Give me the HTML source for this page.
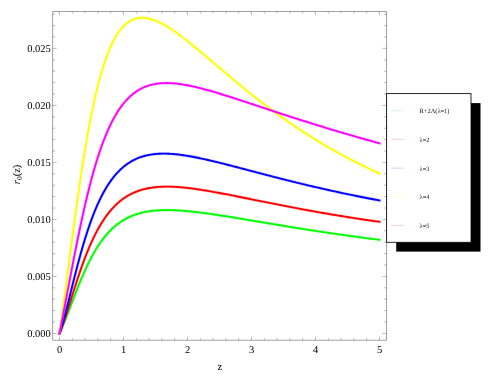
<!DOCTYPE html>
<html><head><meta charset="utf-8"><title>plot</title>
<style>html,body{margin:0;padding:0;background:#fff;}body{width:491px;height:382px;overflow:hidden;font-family:"Liberation Serif",serif;}svg{display:block}text{text-rendering:geometricPrecision;}</style>
</head><body>
<svg width="491" height="382" viewBox="0 0 491 382" style="will-change:transform">
<rect width="491" height="382" fill="#fff"/>
<g fill="none" stroke="#00ff00" stroke-linejoin="round" stroke-linecap="square"><path d="M59.50,333.43 L60.22,331.88 L60.94,330.28 L61.66,328.65 L62.38,326.97 L63.10,325.26 L63.81,323.51 L64.53,321.74 L65.25,319.94 L65.97,318.12 L66.69,316.29 L67.41,314.43 L68.13,312.56 L68.85,310.69 L69.57,308.80 L70.29,306.91 L71.01,305.02 L71.72,303.13 L72.44,301.24 L73.16,299.36 L73.88,297.48 L74.60,295.61 L75.32,293.76 L76.04,291.91 L76.76,290.08 L77.48,288.26 L78.20,286.46 L78.92,284.67 L79.63,282.91 L80.35,281.16 L81.07,279.44 L81.79,277.74 L82.51,276.06 L83.23,274.40 L83.95,272.77 L84.67,271.16 L85.39,269.58 L86.11,268.03 L86.83,266.49 L87.54,264.99 L88.26,263.51 L88.98,262.06 L89.70,260.63 L90.42,259.23 L91.14,257.86 L91.86,256.51 L92.58,255.19 L93.30,253.90 L94.02,252.64 L94.74,251.40 L95.46,250.18 L96.17,249.00 L96.89,247.83 L97.61,246.70 L98.33,245.59 L99.05,244.50 L99.77,243.44 L100.49,242.40 L101.21,241.39 L101.93,240.40 L102.65,239.44 L103.37,238.50 L104.08,237.58 L104.80,236.68 L105.52,235.81 L106.24,234.96 L106.96,234.12 L107.68,233.31 L108.40,232.53 L109.12,231.76 L109.84,231.01 L110.56,230.28 L111.28,229.57 L111.99,228.88 L112.71,228.20 L113.43,227.55 L114.15,226.91 L114.87,226.29 L115.59,225.69 L116.31,225.10 L117.03,224.53 L117.75,223.98 L118.47,223.44 L119.19,222.92 L119.90,222.41 L120.62,221.92 L121.34,221.44 L122.06,220.98 L122.78,220.53 L123.50,220.09 L124.80,219.33 L126.10,218.62 L127.41,217.94 L128.71,217.31 L130.01,216.70 L131.31,216.14 L132.61,215.61 L133.91,215.11 L135.22,214.64 L136.52,214.20 L137.82,213.79 L139.12,213.41 L140.42,213.06 L141.72,212.73 L143.03,212.42 L144.33,212.14 L145.63,211.88 L146.93,211.64 L148.23,211.42 L149.53,211.22 L150.84,211.04 L152.14,210.87 L153.44,210.73 L154.74,210.60 L156.04,210.49 L157.34,210.39 L158.65,210.30 L159.95,210.23 L161.25,210.18 L162.55,210.13 L163.85,210.10 L165.15,210.08 L166.46,210.07 L167.76,210.08 L169.06,210.09 L170.36,210.11 L171.66,210.14 L172.96,210.18 L174.27,210.23 L175.57,210.29 L176.87,210.36 L178.17,210.43 L179.47,210.51 L180.77,210.60 L182.08,210.69 L183.38,210.79 L184.68,210.90 L185.98,211.01 L187.28,211.13 L188.58,211.26 L189.89,211.38 L191.19,211.52 L192.49,211.66 L193.79,211.80 L195.09,211.95 L196.39,212.10 L197.70,212.25 L199.00,212.41 L200.30,212.57 L202.86,212.90 L205.42,213.24 L207.98,213.59 L210.54,213.95 L213.10,214.32 L215.66,214.70 L218.22,215.09 L220.78,215.48 L223.34,215.88 L225.90,216.28 L228.46,216.69 L231.02,217.10 L233.58,217.52 L236.14,217.93 L238.70,218.36 L241.26,218.78 L243.82,219.20 L246.38,219.63 L248.94,220.06 L251.50,220.49 L254.06,220.92 L256.62,221.34 L259.18,221.77 L261.74,222.20 L264.30,222.63 L266.86,223.06 L269.42,223.49 L271.98,223.91 L274.54,224.34 L277.10,224.76 L279.66,225.19 L282.22,225.61 L284.78,226.03 L287.34,226.45 L289.90,226.86 L292.46,227.28 L295.02,227.69 L297.58,228.10 L300.14,228.51 L302.70,228.91 L305.26,229.31 L307.82,229.71 L310.38,230.11 L312.94,230.51 L315.50,230.90 L318.06,231.29 L320.62,231.68 L323.18,232.06 L325.74,232.45 L328.30,232.82 L330.86,233.20 L333.42,233.57 L335.98,233.94 L338.54,234.31 L341.10,234.68 L343.66,235.04 L346.22,235.40 L348.78,235.75 L351.34,236.11 L353.90,236.45 L356.46,236.80 L359.02,237.14 L361.58,237.48 L364.14,237.82 L366.70,238.15 L369.26,238.48 L371.82,238.81 L374.38,239.13 L376.94,239.45 L379.50,239.77" stroke-opacity="0.22" stroke-width="2.9499999999999997"/><path d="M59.50,333.43 L60.22,331.88 L60.94,330.28 L61.66,328.65 L62.38,326.97 L63.10,325.26 L63.81,323.51 L64.53,321.74 L65.25,319.94 L65.97,318.12 L66.69,316.29 L67.41,314.43 L68.13,312.56 L68.85,310.69 L69.57,308.80 L70.29,306.91 L71.01,305.02 L71.72,303.13 L72.44,301.24 L73.16,299.36 L73.88,297.48 L74.60,295.61 L75.32,293.76 L76.04,291.91 L76.76,290.08 L77.48,288.26 L78.20,286.46 L78.92,284.67 L79.63,282.91 L80.35,281.16 L81.07,279.44 L81.79,277.74 L82.51,276.06 L83.23,274.40 L83.95,272.77 L84.67,271.16 L85.39,269.58 L86.11,268.03 L86.83,266.49 L87.54,264.99 L88.26,263.51 L88.98,262.06 L89.70,260.63 L90.42,259.23 L91.14,257.86 L91.86,256.51 L92.58,255.19 L93.30,253.90 L94.02,252.64 L94.74,251.40 L95.46,250.18 L96.17,249.00 L96.89,247.83 L97.61,246.70 L98.33,245.59 L99.05,244.50 L99.77,243.44 L100.49,242.40 L101.21,241.39 L101.93,240.40 L102.65,239.44 L103.37,238.50 L104.08,237.58 L104.80,236.68 L105.52,235.81 L106.24,234.96 L106.96,234.12 L107.68,233.31 L108.40,232.53 L109.12,231.76 L109.84,231.01 L110.56,230.28 L111.28,229.57 L111.99,228.88 L112.71,228.20 L113.43,227.55 L114.15,226.91 L114.87,226.29 L115.59,225.69 L116.31,225.10 L117.03,224.53 L117.75,223.98 L118.47,223.44 L119.19,222.92 L119.90,222.41 L120.62,221.92 L121.34,221.44 L122.06,220.98 L122.78,220.53 L123.50,220.09 L124.80,219.33 L126.10,218.62 L127.41,217.94 L128.71,217.31 L130.01,216.70 L131.31,216.14 L132.61,215.61 L133.91,215.11 L135.22,214.64 L136.52,214.20 L137.82,213.79 L139.12,213.41 L140.42,213.06 L141.72,212.73 L143.03,212.42 L144.33,212.14 L145.63,211.88 L146.93,211.64 L148.23,211.42 L149.53,211.22 L150.84,211.04 L152.14,210.87 L153.44,210.73 L154.74,210.60 L156.04,210.49 L157.34,210.39 L158.65,210.30 L159.95,210.23 L161.25,210.18 L162.55,210.13 L163.85,210.10 L165.15,210.08 L166.46,210.07 L167.76,210.08 L169.06,210.09 L170.36,210.11 L171.66,210.14 L172.96,210.18 L174.27,210.23 L175.57,210.29 L176.87,210.36 L178.17,210.43 L179.47,210.51 L180.77,210.60 L182.08,210.69 L183.38,210.79 L184.68,210.90 L185.98,211.01 L187.28,211.13 L188.58,211.26 L189.89,211.38 L191.19,211.52 L192.49,211.66 L193.79,211.80 L195.09,211.95 L196.39,212.10 L197.70,212.25 L199.00,212.41 L200.30,212.57 L202.86,212.90 L205.42,213.24 L207.98,213.59 L210.54,213.95 L213.10,214.32 L215.66,214.70 L218.22,215.09 L220.78,215.48 L223.34,215.88 L225.90,216.28 L228.46,216.69 L231.02,217.10 L233.58,217.52 L236.14,217.93 L238.70,218.36 L241.26,218.78 L243.82,219.20 L246.38,219.63 L248.94,220.06 L251.50,220.49 L254.06,220.92 L256.62,221.34 L259.18,221.77 L261.74,222.20 L264.30,222.63 L266.86,223.06 L269.42,223.49 L271.98,223.91 L274.54,224.34 L277.10,224.76 L279.66,225.19 L282.22,225.61 L284.78,226.03 L287.34,226.45 L289.90,226.86 L292.46,227.28 L295.02,227.69 L297.58,228.10 L300.14,228.51 L302.70,228.91 L305.26,229.31 L307.82,229.71 L310.38,230.11 L312.94,230.51 L315.50,230.90 L318.06,231.29 L320.62,231.68 L323.18,232.06 L325.74,232.45 L328.30,232.82 L330.86,233.20 L333.42,233.57 L335.98,233.94 L338.54,234.31 L341.10,234.68 L343.66,235.04 L346.22,235.40 L348.78,235.75 L351.34,236.11 L353.90,236.45 L356.46,236.80 L359.02,237.14 L361.58,237.48 L364.14,237.82 L366.70,238.15 L369.26,238.48 L371.82,238.81 L374.38,239.13 L376.94,239.45 L379.50,239.77" stroke-width="1.8499999999999999"/></g>
<g fill="none" stroke="#ff0000" stroke-linejoin="round" stroke-linecap="square"><path d="M59.50,333.43 L60.22,331.65 L60.94,329.79 L61.66,327.87 L62.38,325.88 L63.10,323.85 L63.81,321.76 L64.53,319.63 L65.25,317.47 L65.97,315.27 L66.69,313.05 L67.41,310.80 L68.13,308.54 L68.85,306.26 L69.57,303.98 L70.29,301.69 L71.01,299.40 L71.72,297.10 L72.44,294.82 L73.16,292.54 L73.88,290.27 L74.60,288.01 L75.32,285.77 L76.04,283.55 L76.76,281.34 L77.48,279.16 L78.20,276.99 L78.92,274.85 L79.63,272.74 L80.35,270.65 L81.07,268.59 L81.79,266.56 L82.51,264.56 L83.23,262.59 L83.95,260.65 L84.67,258.74 L85.39,256.86 L86.11,255.01 L86.83,253.19 L87.54,251.41 L88.26,249.66 L88.98,247.94 L89.70,246.26 L90.42,244.61 L91.14,242.99 L91.86,241.40 L92.58,239.85 L93.30,238.32 L94.02,236.83 L94.74,235.37 L95.46,233.95 L96.17,232.55 L96.89,231.18 L97.61,229.85 L98.33,228.54 L99.05,227.27 L99.77,226.02 L100.49,224.80 L101.21,223.61 L101.93,222.45 L102.65,221.32 L103.37,220.22 L104.08,219.14 L104.80,218.08 L105.52,217.06 L106.24,216.06 L106.96,215.08 L107.68,214.13 L108.40,213.20 L109.12,212.30 L109.84,211.42 L110.56,210.56 L111.28,209.72 L111.99,208.91 L112.71,208.12 L113.43,207.35 L114.15,206.60 L114.87,205.87 L115.59,205.16 L116.31,204.47 L117.03,203.80 L117.75,203.15 L118.47,202.51 L119.19,201.90 L119.90,201.30 L120.62,200.72 L121.34,200.15 L122.06,199.61 L122.78,199.07 L123.50,198.56 L124.80,197.66 L126.10,196.81 L127.41,196.01 L128.71,195.26 L130.01,194.55 L131.31,193.88 L132.61,193.25 L133.91,192.65 L135.22,192.10 L136.52,191.58 L137.82,191.09 L139.12,190.63 L140.42,190.21 L141.72,189.82 L143.03,189.45 L144.33,189.11 L145.63,188.80 L146.93,188.52 L148.23,188.25 L149.53,188.02 L150.84,187.80 L152.14,187.60 L153.44,187.43 L154.74,187.28 L156.04,187.14 L157.34,187.02 L158.65,186.92 L159.95,186.84 L161.25,186.77 L162.55,186.72 L163.85,186.68 L165.15,186.66 L166.46,186.65 L167.76,186.65 L169.06,186.67 L170.36,186.70 L171.66,186.74 L172.96,186.79 L174.27,186.85 L175.57,186.92 L176.87,187.00 L178.17,187.09 L179.47,187.19 L180.77,187.29 L182.08,187.41 L183.38,187.53 L184.68,187.66 L185.98,187.80 L187.28,187.94 L188.58,188.09 L189.89,188.25 L191.19,188.41 L192.49,188.58 L193.79,188.76 L195.09,188.93 L196.39,189.12 L197.70,189.31 L199.00,189.50 L200.30,189.70 L202.86,190.10 L205.42,190.51 L207.98,190.94 L210.54,191.38 L213.10,191.83 L215.66,192.29 L218.22,192.76 L220.78,193.24 L223.34,193.72 L225.90,194.21 L228.46,194.70 L231.02,195.20 L233.58,195.70 L236.14,196.21 L238.70,196.72 L241.26,197.23 L243.82,197.74 L246.38,198.26 L248.94,198.77 L251.50,199.29 L254.06,199.81 L256.62,200.32 L259.18,200.84 L261.74,201.35 L264.30,201.87 L266.86,202.38 L269.42,202.89 L271.98,203.40 L274.54,203.91 L277.10,204.41 L279.66,204.92 L282.22,205.42 L284.78,205.92 L287.34,206.41 L289.90,206.90 L292.46,207.39 L295.02,207.88 L297.58,208.36 L300.14,208.84 L302.70,209.32 L305.26,209.79 L307.82,210.26 L310.38,210.73 L312.94,211.19 L315.50,211.65 L318.06,212.10 L320.62,212.56 L323.18,213.00 L325.74,213.45 L328.30,213.88 L330.86,214.32 L333.42,214.75 L335.98,215.18 L338.54,215.60 L341.10,216.02 L343.66,216.43 L346.22,216.84 L348.78,217.25 L351.34,217.65 L353.90,218.05 L356.46,218.44 L359.02,218.83 L361.58,219.22 L364.14,219.60 L366.70,219.97 L369.26,220.34 L371.82,220.71 L374.38,221.07 L376.94,221.43 L379.50,221.79" stroke-opacity="0.22" stroke-width="2.9499999999999997"/><path d="M59.50,333.43 L60.22,331.65 L60.94,329.79 L61.66,327.87 L62.38,325.88 L63.10,323.85 L63.81,321.76 L64.53,319.63 L65.25,317.47 L65.97,315.27 L66.69,313.05 L67.41,310.80 L68.13,308.54 L68.85,306.26 L69.57,303.98 L70.29,301.69 L71.01,299.40 L71.72,297.10 L72.44,294.82 L73.16,292.54 L73.88,290.27 L74.60,288.01 L75.32,285.77 L76.04,283.55 L76.76,281.34 L77.48,279.16 L78.20,276.99 L78.92,274.85 L79.63,272.74 L80.35,270.65 L81.07,268.59 L81.79,266.56 L82.51,264.56 L83.23,262.59 L83.95,260.65 L84.67,258.74 L85.39,256.86 L86.11,255.01 L86.83,253.19 L87.54,251.41 L88.26,249.66 L88.98,247.94 L89.70,246.26 L90.42,244.61 L91.14,242.99 L91.86,241.40 L92.58,239.85 L93.30,238.32 L94.02,236.83 L94.74,235.37 L95.46,233.95 L96.17,232.55 L96.89,231.18 L97.61,229.85 L98.33,228.54 L99.05,227.27 L99.77,226.02 L100.49,224.80 L101.21,223.61 L101.93,222.45 L102.65,221.32 L103.37,220.22 L104.08,219.14 L104.80,218.08 L105.52,217.06 L106.24,216.06 L106.96,215.08 L107.68,214.13 L108.40,213.20 L109.12,212.30 L109.84,211.42 L110.56,210.56 L111.28,209.72 L111.99,208.91 L112.71,208.12 L113.43,207.35 L114.15,206.60 L114.87,205.87 L115.59,205.16 L116.31,204.47 L117.03,203.80 L117.75,203.15 L118.47,202.51 L119.19,201.90 L119.90,201.30 L120.62,200.72 L121.34,200.15 L122.06,199.61 L122.78,199.07 L123.50,198.56 L124.80,197.66 L126.10,196.81 L127.41,196.01 L128.71,195.26 L130.01,194.55 L131.31,193.88 L132.61,193.25 L133.91,192.65 L135.22,192.10 L136.52,191.58 L137.82,191.09 L139.12,190.63 L140.42,190.21 L141.72,189.82 L143.03,189.45 L144.33,189.11 L145.63,188.80 L146.93,188.52 L148.23,188.25 L149.53,188.02 L150.84,187.80 L152.14,187.60 L153.44,187.43 L154.74,187.28 L156.04,187.14 L157.34,187.02 L158.65,186.92 L159.95,186.84 L161.25,186.77 L162.55,186.72 L163.85,186.68 L165.15,186.66 L166.46,186.65 L167.76,186.65 L169.06,186.67 L170.36,186.70 L171.66,186.74 L172.96,186.79 L174.27,186.85 L175.57,186.92 L176.87,187.00 L178.17,187.09 L179.47,187.19 L180.77,187.29 L182.08,187.41 L183.38,187.53 L184.68,187.66 L185.98,187.80 L187.28,187.94 L188.58,188.09 L189.89,188.25 L191.19,188.41 L192.49,188.58 L193.79,188.76 L195.09,188.93 L196.39,189.12 L197.70,189.31 L199.00,189.50 L200.30,189.70 L202.86,190.10 L205.42,190.51 L207.98,190.94 L210.54,191.38 L213.10,191.83 L215.66,192.29 L218.22,192.76 L220.78,193.24 L223.34,193.72 L225.90,194.21 L228.46,194.70 L231.02,195.20 L233.58,195.70 L236.14,196.21 L238.70,196.72 L241.26,197.23 L243.82,197.74 L246.38,198.26 L248.94,198.77 L251.50,199.29 L254.06,199.81 L256.62,200.32 L259.18,200.84 L261.74,201.35 L264.30,201.87 L266.86,202.38 L269.42,202.89 L271.98,203.40 L274.54,203.91 L277.10,204.41 L279.66,204.92 L282.22,205.42 L284.78,205.92 L287.34,206.41 L289.90,206.90 L292.46,207.39 L295.02,207.88 L297.58,208.36 L300.14,208.84 L302.70,209.32 L305.26,209.79 L307.82,210.26 L310.38,210.73 L312.94,211.19 L315.50,211.65 L318.06,212.10 L320.62,212.56 L323.18,213.00 L325.74,213.45 L328.30,213.88 L330.86,214.32 L333.42,214.75 L335.98,215.18 L338.54,215.60 L341.10,216.02 L343.66,216.43 L346.22,216.84 L348.78,217.25 L351.34,217.65 L353.90,218.05 L356.46,218.44 L359.02,218.83 L361.58,219.22 L364.14,219.60 L366.70,219.97 L369.26,220.34 L371.82,220.71 L374.38,221.07 L376.94,221.43 L379.50,221.79" stroke-width="1.8499999999999999"/></g>
<g fill="none" stroke="#0000ff" stroke-linejoin="round" stroke-linecap="square"><path d="M59.50,333.43 L60.22,331.33 L60.94,329.11 L61.66,326.79 L62.38,324.37 L63.10,321.86 L63.81,319.28 L64.53,316.63 L65.25,313.92 L65.97,311.17 L66.69,308.37 L67.41,305.54 L68.13,302.69 L68.85,299.81 L69.57,296.93 L70.29,294.03 L71.01,291.13 L71.72,288.23 L72.44,285.34 L73.16,282.46 L73.88,279.59 L74.60,276.75 L75.32,273.92 L76.04,271.11 L76.76,268.34 L77.48,265.59 L78.20,262.87 L78.92,260.19 L79.63,257.54 L80.35,254.92 L81.07,252.35 L81.79,249.81 L82.51,247.31 L83.23,244.85 L83.95,242.43 L84.67,240.05 L85.39,237.72 L86.11,235.43 L86.83,233.18 L87.54,230.97 L88.26,228.80 L88.98,226.68 L89.70,224.60 L90.42,222.56 L91.14,220.57 L91.86,218.62 L92.58,216.71 L93.30,214.84 L94.02,213.01 L94.74,211.22 L95.46,209.47 L96.17,207.76 L96.89,206.10 L97.61,204.47 L98.33,202.87 L99.05,201.32 L99.77,199.80 L100.49,198.32 L101.21,196.88 L101.93,195.47 L102.65,194.10 L103.37,192.76 L104.08,191.45 L104.80,190.18 L105.52,188.94 L106.24,187.73 L106.96,186.56 L107.68,185.41 L108.40,184.29 L109.12,183.21 L109.84,182.15 L110.56,181.12 L111.28,180.12 L111.99,179.15 L112.71,178.20 L113.43,177.28 L114.15,176.38 L114.87,175.51 L115.59,174.67 L116.31,173.85 L117.03,173.05 L117.75,172.28 L118.47,171.52 L119.19,170.79 L119.90,170.09 L120.62,169.40 L121.34,168.73 L122.06,168.09 L122.78,167.46 L123.50,166.85 L124.80,165.80 L126.10,164.81 L127.41,163.88 L128.71,163.00 L130.01,162.17 L131.31,161.39 L132.61,160.67 L133.91,159.99 L135.22,159.35 L136.52,158.76 L137.82,158.21 L139.12,157.69 L140.42,157.22 L141.72,156.78 L143.03,156.38 L144.33,156.01 L145.63,155.67 L146.93,155.36 L148.23,155.08 L149.53,154.83 L150.84,154.61 L152.14,154.41 L153.44,154.24 L154.74,154.09 L156.04,153.97 L157.34,153.86 L158.65,153.78 L159.95,153.72 L161.25,153.68 L162.55,153.65 L163.85,153.64 L165.15,153.65 L166.46,153.68 L167.76,153.72 L169.06,153.78 L170.36,153.85 L171.66,153.94 L172.96,154.03 L174.27,154.14 L175.57,154.27 L176.87,154.40 L178.17,154.54 L179.47,154.70 L180.77,154.86 L182.08,155.04 L183.38,155.22 L184.68,155.42 L185.98,155.62 L187.28,155.83 L188.58,156.04 L189.89,156.27 L191.19,156.50 L192.49,156.74 L193.79,156.98 L195.09,157.23 L196.39,157.49 L197.70,157.75 L199.00,158.01 L200.30,158.29 L202.86,158.83 L205.42,159.40 L207.98,159.98 L210.54,160.57 L213.10,161.18 L215.66,161.79 L218.22,162.42 L220.78,163.05 L223.34,163.69 L225.90,164.34 L228.46,165.00 L231.02,165.65 L233.58,166.32 L236.14,166.98 L238.70,167.65 L241.26,168.32 L243.82,169.00 L246.38,169.67 L248.94,170.34 L251.50,171.02 L254.06,171.69 L256.62,172.36 L259.18,173.04 L261.74,173.71 L264.30,174.38 L266.86,175.04 L269.42,175.71 L271.98,176.37 L274.54,177.03 L277.10,177.69 L279.66,178.34 L282.22,178.99 L284.78,179.64 L287.34,180.28 L289.90,180.92 L292.46,181.55 L295.02,182.18 L297.58,182.81 L300.14,183.43 L302.70,184.05 L305.26,184.67 L307.82,185.28 L310.38,185.88 L312.94,186.48 L315.50,187.08 L318.06,187.67 L320.62,188.26 L323.18,188.84 L325.74,189.42 L328.30,189.99 L330.86,190.56 L333.42,191.12 L335.98,191.68 L338.54,192.23 L341.10,192.78 L343.66,193.33 L346.22,193.87 L348.78,194.40 L351.34,194.93 L353.90,195.45 L356.46,195.97 L359.02,196.49 L361.58,197.00 L364.14,197.50 L366.70,198.00 L369.26,198.50 L371.82,198.99 L374.38,199.47 L376.94,199.95 L379.50,200.43" stroke-opacity="0.22" stroke-width="2.9499999999999997"/><path d="M59.50,333.43 L60.22,331.33 L60.94,329.11 L61.66,326.79 L62.38,324.37 L63.10,321.86 L63.81,319.28 L64.53,316.63 L65.25,313.92 L65.97,311.17 L66.69,308.37 L67.41,305.54 L68.13,302.69 L68.85,299.81 L69.57,296.93 L70.29,294.03 L71.01,291.13 L71.72,288.23 L72.44,285.34 L73.16,282.46 L73.88,279.59 L74.60,276.75 L75.32,273.92 L76.04,271.11 L76.76,268.34 L77.48,265.59 L78.20,262.87 L78.92,260.19 L79.63,257.54 L80.35,254.92 L81.07,252.35 L81.79,249.81 L82.51,247.31 L83.23,244.85 L83.95,242.43 L84.67,240.05 L85.39,237.72 L86.11,235.43 L86.83,233.18 L87.54,230.97 L88.26,228.80 L88.98,226.68 L89.70,224.60 L90.42,222.56 L91.14,220.57 L91.86,218.62 L92.58,216.71 L93.30,214.84 L94.02,213.01 L94.74,211.22 L95.46,209.47 L96.17,207.76 L96.89,206.10 L97.61,204.47 L98.33,202.87 L99.05,201.32 L99.77,199.80 L100.49,198.32 L101.21,196.88 L101.93,195.47 L102.65,194.10 L103.37,192.76 L104.08,191.45 L104.80,190.18 L105.52,188.94 L106.24,187.73 L106.96,186.56 L107.68,185.41 L108.40,184.29 L109.12,183.21 L109.84,182.15 L110.56,181.12 L111.28,180.12 L111.99,179.15 L112.71,178.20 L113.43,177.28 L114.15,176.38 L114.87,175.51 L115.59,174.67 L116.31,173.85 L117.03,173.05 L117.75,172.28 L118.47,171.52 L119.19,170.79 L119.90,170.09 L120.62,169.40 L121.34,168.73 L122.06,168.09 L122.78,167.46 L123.50,166.85 L124.80,165.80 L126.10,164.81 L127.41,163.88 L128.71,163.00 L130.01,162.17 L131.31,161.39 L132.61,160.67 L133.91,159.99 L135.22,159.35 L136.52,158.76 L137.82,158.21 L139.12,157.69 L140.42,157.22 L141.72,156.78 L143.03,156.38 L144.33,156.01 L145.63,155.67 L146.93,155.36 L148.23,155.08 L149.53,154.83 L150.84,154.61 L152.14,154.41 L153.44,154.24 L154.74,154.09 L156.04,153.97 L157.34,153.86 L158.65,153.78 L159.95,153.72 L161.25,153.68 L162.55,153.65 L163.85,153.64 L165.15,153.65 L166.46,153.68 L167.76,153.72 L169.06,153.78 L170.36,153.85 L171.66,153.94 L172.96,154.03 L174.27,154.14 L175.57,154.27 L176.87,154.40 L178.17,154.54 L179.47,154.70 L180.77,154.86 L182.08,155.04 L183.38,155.22 L184.68,155.42 L185.98,155.62 L187.28,155.83 L188.58,156.04 L189.89,156.27 L191.19,156.50 L192.49,156.74 L193.79,156.98 L195.09,157.23 L196.39,157.49 L197.70,157.75 L199.00,158.01 L200.30,158.29 L202.86,158.83 L205.42,159.40 L207.98,159.98 L210.54,160.57 L213.10,161.18 L215.66,161.79 L218.22,162.42 L220.78,163.05 L223.34,163.69 L225.90,164.34 L228.46,165.00 L231.02,165.65 L233.58,166.32 L236.14,166.98 L238.70,167.65 L241.26,168.32 L243.82,169.00 L246.38,169.67 L248.94,170.34 L251.50,171.02 L254.06,171.69 L256.62,172.36 L259.18,173.04 L261.74,173.71 L264.30,174.38 L266.86,175.04 L269.42,175.71 L271.98,176.37 L274.54,177.03 L277.10,177.69 L279.66,178.34 L282.22,178.99 L284.78,179.64 L287.34,180.28 L289.90,180.92 L292.46,181.55 L295.02,182.18 L297.58,182.81 L300.14,183.43 L302.70,184.05 L305.26,184.67 L307.82,185.28 L310.38,185.88 L312.94,186.48 L315.50,187.08 L318.06,187.67 L320.62,188.26 L323.18,188.84 L325.74,189.42 L328.30,189.99 L330.86,190.56 L333.42,191.12 L335.98,191.68 L338.54,192.23 L341.10,192.78 L343.66,193.33 L346.22,193.87 L348.78,194.40 L351.34,194.93 L353.90,195.45 L356.46,195.97 L359.02,196.49 L361.58,197.00 L364.14,197.50 L366.70,198.00 L369.26,198.50 L371.82,198.99 L374.38,199.47 L376.94,199.95 L379.50,200.43" stroke-width="1.8499999999999999"/></g>
<g fill="none" stroke="#ffff00" stroke-linejoin="round" stroke-linecap="square"><path d="M59.50,333.43 L60.22,328.29 L60.94,323.09 L61.66,317.83 L62.38,312.53 L63.10,307.19 L63.81,301.80 L64.53,296.39 L65.25,290.95 L65.97,285.49 L66.69,280.02 L67.41,274.53 L68.13,269.04 L68.85,263.55 L69.57,258.07 L70.29,252.60 L71.01,247.15 L71.72,241.71 L72.44,236.30 L73.16,230.93 L73.88,225.58 L74.60,220.28 L75.32,215.02 L76.04,209.81 L76.76,204.64 L77.48,199.53 L78.20,194.48 L78.92,189.49 L79.63,184.57 L80.35,179.71 L81.07,174.91 L81.79,170.19 L82.51,165.55 L83.23,160.97 L83.95,156.48 L84.67,152.06 L85.39,147.72 L86.11,143.47 L86.83,139.29 L87.54,135.20 L88.26,131.19 L88.98,127.27 L89.70,123.43 L90.42,119.67 L91.14,116.00 L91.86,112.42 L92.58,108.92 L93.30,105.50 L94.02,102.17 L94.74,98.92 L95.46,95.75 L96.17,92.67 L96.89,89.66 L97.61,86.74 L98.33,83.90 L99.05,81.14 L99.77,78.45 L100.49,75.85 L101.21,73.32 L101.93,70.86 L102.65,68.48 L103.37,66.17 L104.08,63.94 L104.80,61.77 L105.52,59.67 L106.24,57.65 L106.96,55.69 L107.68,53.79 L108.40,51.96 L109.12,50.19 L109.84,48.48 L110.56,46.84 L111.28,45.25 L111.99,43.73 L112.71,42.25 L113.43,40.84 L114.15,39.48 L114.87,38.17 L115.59,36.92 L116.31,35.71 L117.03,34.56 L117.75,33.45 L118.47,32.39 L119.19,31.38 L119.90,30.42 L120.62,29.49 L121.34,28.61 L122.06,27.78 L122.78,26.98 L123.50,26.22 L124.80,24.95 L126.10,23.80 L127.41,22.77 L128.71,21.85 L130.01,21.04 L131.31,20.33 L132.61,19.71 L133.91,19.19 L135.22,18.75 L136.52,18.40 L137.82,18.13 L139.12,17.93 L140.42,17.80 L141.72,17.75 L143.03,17.76 L144.33,17.83 L145.63,17.96 L146.93,18.15 L148.23,18.39 L149.53,18.69 L150.84,19.03 L152.14,19.42 L153.44,19.85 L154.74,20.32 L156.04,20.83 L157.34,21.38 L158.65,21.97 L159.95,22.59 L161.25,23.24 L162.55,23.92 L163.85,24.63 L165.15,25.37 L166.46,26.13 L167.76,26.92 L169.06,27.73 L170.36,28.57 L171.66,29.42 L172.96,30.30 L174.27,31.19 L175.57,32.10 L176.87,33.02 L178.17,33.97 L179.47,34.92 L180.77,35.89 L182.08,36.87 L183.38,37.87 L184.68,38.87 L185.98,39.89 L187.28,40.92 L188.58,41.95 L189.89,42.99 L191.19,44.05 L192.49,45.10 L193.79,46.17 L195.09,47.24 L196.39,48.32 L197.70,49.40 L199.00,50.48 L200.30,51.58 L202.86,53.73 L205.42,55.90 L207.98,58.07 L210.54,60.25 L213.10,62.43 L215.66,64.62 L218.22,66.80 L220.78,68.98 L223.34,71.15 L225.90,73.32 L228.46,75.48 L231.02,77.64 L233.58,79.78 L236.14,81.91 L238.70,84.03 L241.26,86.13 L243.82,88.23 L246.38,90.30 L248.94,92.36 L251.50,94.41 L254.06,96.44 L256.62,98.45 L259.18,100.45 L261.74,102.42 L264.30,104.38 L266.86,106.32 L269.42,108.25 L271.98,110.15 L274.54,112.03 L277.10,113.90 L279.66,115.75 L282.22,117.57 L284.78,119.38 L287.34,121.17 L289.90,122.94 L292.46,124.69 L295.02,126.42 L297.58,128.13 L300.14,129.83 L302.70,131.50 L305.26,133.15 L307.82,134.79 L310.38,136.41 L312.94,138.01 L315.50,139.58 L318.06,141.15 L320.62,142.69 L323.18,144.21 L325.74,145.72 L328.30,147.21 L330.86,148.68 L333.42,150.14 L335.98,151.57 L338.54,152.99 L341.10,154.40 L343.66,155.78 L346.22,157.15 L348.78,158.51 L351.34,159.84 L353.90,161.17 L356.46,162.47 L359.02,163.76 L361.58,165.04 L364.14,166.30 L366.70,167.54 L369.26,168.77 L371.82,169.98 L374.38,171.19 L376.94,172.37 L379.50,173.54" stroke-opacity="0.22" stroke-width="2.9499999999999997"/><path d="M59.50,333.43 L60.22,328.29 L60.94,323.09 L61.66,317.83 L62.38,312.53 L63.10,307.19 L63.81,301.80 L64.53,296.39 L65.25,290.95 L65.97,285.49 L66.69,280.02 L67.41,274.53 L68.13,269.04 L68.85,263.55 L69.57,258.07 L70.29,252.60 L71.01,247.15 L71.72,241.71 L72.44,236.30 L73.16,230.93 L73.88,225.58 L74.60,220.28 L75.32,215.02 L76.04,209.81 L76.76,204.64 L77.48,199.53 L78.20,194.48 L78.92,189.49 L79.63,184.57 L80.35,179.71 L81.07,174.91 L81.79,170.19 L82.51,165.55 L83.23,160.97 L83.95,156.48 L84.67,152.06 L85.39,147.72 L86.11,143.47 L86.83,139.29 L87.54,135.20 L88.26,131.19 L88.98,127.27 L89.70,123.43 L90.42,119.67 L91.14,116.00 L91.86,112.42 L92.58,108.92 L93.30,105.50 L94.02,102.17 L94.74,98.92 L95.46,95.75 L96.17,92.67 L96.89,89.66 L97.61,86.74 L98.33,83.90 L99.05,81.14 L99.77,78.45 L100.49,75.85 L101.21,73.32 L101.93,70.86 L102.65,68.48 L103.37,66.17 L104.08,63.94 L104.80,61.77 L105.52,59.67 L106.24,57.65 L106.96,55.69 L107.68,53.79 L108.40,51.96 L109.12,50.19 L109.84,48.48 L110.56,46.84 L111.28,45.25 L111.99,43.73 L112.71,42.25 L113.43,40.84 L114.15,39.48 L114.87,38.17 L115.59,36.92 L116.31,35.71 L117.03,34.56 L117.75,33.45 L118.47,32.39 L119.19,31.38 L119.90,30.42 L120.62,29.49 L121.34,28.61 L122.06,27.78 L122.78,26.98 L123.50,26.22 L124.80,24.95 L126.10,23.80 L127.41,22.77 L128.71,21.85 L130.01,21.04 L131.31,20.33 L132.61,19.71 L133.91,19.19 L135.22,18.75 L136.52,18.40 L137.82,18.13 L139.12,17.93 L140.42,17.80 L141.72,17.75 L143.03,17.76 L144.33,17.83 L145.63,17.96 L146.93,18.15 L148.23,18.39 L149.53,18.69 L150.84,19.03 L152.14,19.42 L153.44,19.85 L154.74,20.32 L156.04,20.83 L157.34,21.38 L158.65,21.97 L159.95,22.59 L161.25,23.24 L162.55,23.92 L163.85,24.63 L165.15,25.37 L166.46,26.13 L167.76,26.92 L169.06,27.73 L170.36,28.57 L171.66,29.42 L172.96,30.30 L174.27,31.19 L175.57,32.10 L176.87,33.02 L178.17,33.97 L179.47,34.92 L180.77,35.89 L182.08,36.87 L183.38,37.87 L184.68,38.87 L185.98,39.89 L187.28,40.92 L188.58,41.95 L189.89,42.99 L191.19,44.05 L192.49,45.10 L193.79,46.17 L195.09,47.24 L196.39,48.32 L197.70,49.40 L199.00,50.48 L200.30,51.58 L202.86,53.73 L205.42,55.90 L207.98,58.07 L210.54,60.25 L213.10,62.43 L215.66,64.62 L218.22,66.80 L220.78,68.98 L223.34,71.15 L225.90,73.32 L228.46,75.48 L231.02,77.64 L233.58,79.78 L236.14,81.91 L238.70,84.03 L241.26,86.13 L243.82,88.23 L246.38,90.30 L248.94,92.36 L251.50,94.41 L254.06,96.44 L256.62,98.45 L259.18,100.45 L261.74,102.42 L264.30,104.38 L266.86,106.32 L269.42,108.25 L271.98,110.15 L274.54,112.03 L277.10,113.90 L279.66,115.75 L282.22,117.57 L284.78,119.38 L287.34,121.17 L289.90,122.94 L292.46,124.69 L295.02,126.42 L297.58,128.13 L300.14,129.83 L302.70,131.50 L305.26,133.15 L307.82,134.79 L310.38,136.41 L312.94,138.01 L315.50,139.58 L318.06,141.15 L320.62,142.69 L323.18,144.21 L325.74,145.72 L328.30,147.21 L330.86,148.68 L333.42,150.14 L335.98,151.57 L338.54,152.99 L341.10,154.40 L343.66,155.78 L346.22,157.15 L348.78,158.51 L351.34,159.84 L353.90,161.17 L356.46,162.47 L359.02,163.76 L361.58,165.04 L364.14,166.30 L366.70,167.54 L369.26,168.77 L371.82,169.98 L374.38,171.19 L376.94,172.37 L379.50,173.54" stroke-width="1.8499999999999999"/></g>
<g fill="none" stroke="#ff00ff" stroke-linejoin="round" stroke-linecap="square"><path d="M59.50,333.43 L60.22,329.78 L60.94,326.10 L61.66,322.39 L62.38,318.66 L63.10,314.91 L63.81,311.14 L64.53,307.36 L65.25,303.57 L65.97,299.77 L66.69,295.97 L67.41,292.16 L68.13,288.36 L68.85,284.56 L69.57,280.76 L70.29,276.98 L71.01,273.21 L71.72,269.45 L72.44,265.71 L73.16,261.99 L73.88,258.29 L74.60,254.62 L75.32,250.97 L76.04,247.35 L76.76,243.76 L77.48,240.21 L78.20,236.68 L78.92,233.19 L79.63,229.74 L80.35,226.33 L81.07,222.96 L81.79,219.62 L82.51,216.33 L83.23,213.09 L83.95,209.88 L84.67,206.72 L85.39,203.61 L86.11,200.54 L86.83,197.52 L87.54,194.55 L88.26,191.63 L88.98,188.75 L89.70,185.92 L90.42,183.14 L91.14,180.41 L91.86,177.73 L92.58,175.10 L93.30,172.52 L94.02,169.98 L94.74,167.50 L95.46,165.06 L96.17,162.67 L96.89,160.34 L97.61,158.05 L98.33,155.80 L99.05,153.61 L99.77,151.46 L100.49,149.36 L101.21,147.31 L101.93,145.30 L102.65,143.34 L103.37,141.42 L104.08,139.55 L104.80,137.72 L105.52,135.93 L106.24,134.19 L106.96,132.49 L107.68,130.83 L108.40,129.21 L109.12,127.63 L109.84,126.09 L110.56,124.59 L111.28,123.13 L111.99,121.70 L112.71,120.32 L113.43,118.97 L114.15,117.66 L114.87,116.38 L115.59,115.13 L116.31,113.92 L117.03,112.75 L117.75,111.60 L118.47,110.49 L119.19,109.41 L119.90,108.36 L120.62,107.34 L121.34,106.35 L122.06,105.39 L122.78,104.46 L123.50,103.56 L124.80,101.99 L126.10,100.51 L127.41,99.11 L128.71,97.80 L130.01,96.55 L131.31,95.39 L132.61,94.29 L133.91,93.26 L135.22,92.30 L136.52,91.39 L137.82,90.55 L139.12,89.77 L140.42,89.04 L141.72,88.36 L143.03,87.74 L144.33,87.16 L145.63,86.63 L146.93,86.14 L148.23,85.70 L149.53,85.29 L150.84,84.93 L152.14,84.60 L153.44,84.31 L154.74,84.05 L156.04,83.83 L157.34,83.63 L158.65,83.47 L159.95,83.33 L161.25,83.23 L162.55,83.14 L163.85,83.09 L165.15,83.05 L166.46,83.04 L167.76,83.05 L169.06,83.09 L170.36,83.14 L171.66,83.21 L172.96,83.30 L174.27,83.40 L175.57,83.53 L176.87,83.67 L178.17,83.82 L179.47,83.99 L180.77,84.17 L182.08,84.37 L183.38,84.58 L184.68,84.80 L185.98,85.03 L187.28,85.27 L188.58,85.52 L189.89,85.78 L191.19,86.06 L192.49,86.34 L193.79,86.63 L195.09,86.93 L196.39,87.23 L197.70,87.54 L199.00,87.86 L200.30,88.19 L202.86,88.85 L205.42,89.54 L207.98,90.24 L210.54,90.96 L213.10,91.70 L215.66,92.46 L218.22,93.22 L220.78,94.00 L223.34,94.79 L225.90,95.59 L228.46,96.40 L231.02,97.22 L233.58,98.04 L236.14,98.86 L238.70,99.69 L241.26,100.53 L243.82,101.37 L246.38,102.21 L248.94,103.05 L251.50,103.90 L254.06,104.74 L256.62,105.59 L259.18,106.44 L261.74,107.29 L264.30,108.13 L266.86,108.98 L269.42,109.82 L271.98,110.67 L274.54,111.51 L277.10,112.35 L279.66,113.19 L282.22,114.02 L284.78,114.85 L287.34,115.69 L289.90,116.51 L292.46,117.34 L295.02,118.16 L297.58,118.98 L300.14,119.80 L302.70,120.61 L305.26,121.42 L307.82,122.22 L310.38,123.03 L312.94,123.83 L315.50,124.62 L318.06,125.41 L320.62,126.20 L323.18,126.99 L325.74,127.77 L328.30,128.54 L330.86,129.32 L333.42,130.09 L335.98,130.85 L338.54,131.62 L341.10,132.37 L343.66,133.13 L346.22,133.88 L348.78,134.62 L351.34,135.37 L353.90,136.11 L356.46,136.84 L359.02,137.57 L361.58,138.30 L364.14,139.02 L366.70,139.74 L369.26,140.46 L371.82,141.17 L374.38,141.88 L376.94,142.58 L379.50,143.28" stroke-opacity="0.22" stroke-width="2.9499999999999997"/><path d="M59.50,333.43 L60.22,329.78 L60.94,326.10 L61.66,322.39 L62.38,318.66 L63.10,314.91 L63.81,311.14 L64.53,307.36 L65.25,303.57 L65.97,299.77 L66.69,295.97 L67.41,292.16 L68.13,288.36 L68.85,284.56 L69.57,280.76 L70.29,276.98 L71.01,273.21 L71.72,269.45 L72.44,265.71 L73.16,261.99 L73.88,258.29 L74.60,254.62 L75.32,250.97 L76.04,247.35 L76.76,243.76 L77.48,240.21 L78.20,236.68 L78.92,233.19 L79.63,229.74 L80.35,226.33 L81.07,222.96 L81.79,219.62 L82.51,216.33 L83.23,213.09 L83.95,209.88 L84.67,206.72 L85.39,203.61 L86.11,200.54 L86.83,197.52 L87.54,194.55 L88.26,191.63 L88.98,188.75 L89.70,185.92 L90.42,183.14 L91.14,180.41 L91.86,177.73 L92.58,175.10 L93.30,172.52 L94.02,169.98 L94.74,167.50 L95.46,165.06 L96.17,162.67 L96.89,160.34 L97.61,158.05 L98.33,155.80 L99.05,153.61 L99.77,151.46 L100.49,149.36 L101.21,147.31 L101.93,145.30 L102.65,143.34 L103.37,141.42 L104.08,139.55 L104.80,137.72 L105.52,135.93 L106.24,134.19 L106.96,132.49 L107.68,130.83 L108.40,129.21 L109.12,127.63 L109.84,126.09 L110.56,124.59 L111.28,123.13 L111.99,121.70 L112.71,120.32 L113.43,118.97 L114.15,117.66 L114.87,116.38 L115.59,115.13 L116.31,113.92 L117.03,112.75 L117.75,111.60 L118.47,110.49 L119.19,109.41 L119.90,108.36 L120.62,107.34 L121.34,106.35 L122.06,105.39 L122.78,104.46 L123.50,103.56 L124.80,101.99 L126.10,100.51 L127.41,99.11 L128.71,97.80 L130.01,96.55 L131.31,95.39 L132.61,94.29 L133.91,93.26 L135.22,92.30 L136.52,91.39 L137.82,90.55 L139.12,89.77 L140.42,89.04 L141.72,88.36 L143.03,87.74 L144.33,87.16 L145.63,86.63 L146.93,86.14 L148.23,85.70 L149.53,85.29 L150.84,84.93 L152.14,84.60 L153.44,84.31 L154.74,84.05 L156.04,83.83 L157.34,83.63 L158.65,83.47 L159.95,83.33 L161.25,83.23 L162.55,83.14 L163.85,83.09 L165.15,83.05 L166.46,83.04 L167.76,83.05 L169.06,83.09 L170.36,83.14 L171.66,83.21 L172.96,83.30 L174.27,83.40 L175.57,83.53 L176.87,83.67 L178.17,83.82 L179.47,83.99 L180.77,84.17 L182.08,84.37 L183.38,84.58 L184.68,84.80 L185.98,85.03 L187.28,85.27 L188.58,85.52 L189.89,85.78 L191.19,86.06 L192.49,86.34 L193.79,86.63 L195.09,86.93 L196.39,87.23 L197.70,87.54 L199.00,87.86 L200.30,88.19 L202.86,88.85 L205.42,89.54 L207.98,90.24 L210.54,90.96 L213.10,91.70 L215.66,92.46 L218.22,93.22 L220.78,94.00 L223.34,94.79 L225.90,95.59 L228.46,96.40 L231.02,97.22 L233.58,98.04 L236.14,98.86 L238.70,99.69 L241.26,100.53 L243.82,101.37 L246.38,102.21 L248.94,103.05 L251.50,103.90 L254.06,104.74 L256.62,105.59 L259.18,106.44 L261.74,107.29 L264.30,108.13 L266.86,108.98 L269.42,109.82 L271.98,110.67 L274.54,111.51 L277.10,112.35 L279.66,113.19 L282.22,114.02 L284.78,114.85 L287.34,115.69 L289.90,116.51 L292.46,117.34 L295.02,118.16 L297.58,118.98 L300.14,119.80 L302.70,120.61 L305.26,121.42 L307.82,122.22 L310.38,123.03 L312.94,123.83 L315.50,124.62 L318.06,125.41 L320.62,126.20 L323.18,126.99 L325.74,127.77 L328.30,128.54 L330.86,129.32 L333.42,130.09 L335.98,130.85 L338.54,131.62 L341.10,132.37 L343.66,133.13 L346.22,133.88 L348.78,134.62 L351.34,135.37 L353.90,136.11 L356.46,136.84 L359.02,137.57 L361.58,138.30 L364.14,139.02 L366.70,139.74 L369.26,140.46 L371.82,141.17 L374.38,141.88 L376.94,142.58 L379.50,143.28" stroke-width="1.8499999999999999"/></g>
<path d="M52.6,11.5H386.55V340.25H52.6Z" fill="none" stroke="#828282" stroke-width="0.75"/>
<path d="M59.50,340.25v-3.5 M59.50,11.5v3.5 M72.30,340.25v-2.2 M72.30,11.5v2.2 M85.10,340.25v-2.2 M85.10,11.5v2.2 M97.90,340.25v-2.2 M97.90,11.5v2.2 M110.70,340.25v-2.2 M110.70,11.5v2.2 M123.50,340.25v-3.5 M123.50,11.5v3.5 M136.30,340.25v-2.2 M136.30,11.5v2.2 M149.10,340.25v-2.2 M149.10,11.5v2.2 M161.90,340.25v-2.2 M161.90,11.5v2.2 M174.70,340.25v-2.2 M174.70,11.5v2.2 M187.50,340.25v-3.5 M187.50,11.5v3.5 M200.30,340.25v-2.2 M200.30,11.5v2.2 M213.10,340.25v-2.2 M213.10,11.5v2.2 M225.90,340.25v-2.2 M225.90,11.5v2.2 M238.70,340.25v-2.2 M238.70,11.5v2.2 M251.50,340.25v-3.5 M251.50,11.5v3.5 M264.30,340.25v-2.2 M264.30,11.5v2.2 M277.10,340.25v-2.2 M277.10,11.5v2.2 M289.90,340.25v-2.2 M289.90,11.5v2.2 M302.70,340.25v-2.2 M302.70,11.5v2.2 M315.50,340.25v-3.5 M315.50,11.5v3.5 M328.30,340.25v-2.2 M328.30,11.5v2.2 M341.10,340.25v-2.2 M341.10,11.5v2.2 M353.90,340.25v-2.2 M353.90,11.5v2.2 M366.70,340.25v-2.2 M366.70,11.5v2.2 M379.50,340.25v-3.5 M379.50,11.5v3.5 M52.6,333.43h4.1 M386.55,333.43h-4.1 M52.6,322.03h2.5 M386.55,322.03h-2.5 M52.6,310.63h2.5 M386.55,310.63h-2.5 M52.6,299.22h2.5 M386.55,299.22h-2.5 M52.6,287.82h2.5 M386.55,287.82h-2.5 M52.6,276.42h4.1 M386.55,276.42h-4.1 M52.6,265.02h2.5 M386.55,265.02h-2.5 M52.6,253.62h2.5 M386.55,253.62h-2.5 M52.6,242.21h2.5 M386.55,242.21h-2.5 M52.6,230.81h2.5 M386.55,230.81h-2.5 M52.6,219.41h4.1 M386.55,219.41h-4.1 M52.6,208.01h2.5 M386.55,208.01h-2.5 M52.6,196.61h2.5 M386.55,196.61h-2.5 M52.6,185.20h2.5 M386.55,185.20h-2.5 M52.6,173.80h2.5 M386.55,173.80h-2.5 M52.6,162.40h4.1 M386.55,162.40h-4.1 M52.6,151.00h2.5 M386.55,151.00h-2.5 M52.6,139.60h2.5 M386.55,139.60h-2.5 M52.6,128.19h2.5 M386.55,128.19h-2.5 M52.6,116.79h2.5 M386.55,116.79h-2.5 M52.6,105.39h4.1 M386.55,105.39h-4.1 M52.6,93.99h2.5 M386.55,93.99h-2.5 M52.6,82.59h2.5 M386.55,82.59h-2.5 M52.6,71.18h2.5 M386.55,71.18h-2.5 M52.6,59.78h2.5 M386.55,59.78h-2.5 M52.6,48.38h4.1 M386.55,48.38h-4.1 M52.6,36.98h2.5 M386.55,36.98h-2.5 M52.6,25.58h2.5 M386.55,25.58h-2.5 M52.6,14.17h2.5 M386.55,14.17h-2.5" fill="none" stroke="#777" stroke-width="0.5"/>
<g font-family="Liberation Serif, serif" font-size="10.5" fill="#000">
<text x="59.50" y="352.7" text-anchor="middle">0</text>
<text x="123.50" y="352.7" text-anchor="middle">1</text>
<text x="187.50" y="352.7" text-anchor="middle">2</text>
<text x="251.50" y="352.7" text-anchor="middle">3</text>
<text x="315.50" y="352.7" text-anchor="middle">4</text>
<text x="379.50" y="352.7" text-anchor="middle">5</text>
<text x="50.8" y="336.98" text-anchor="end">0.000</text>
<text x="50.8" y="279.97" text-anchor="end">0.005</text>
<text x="50.8" y="222.96" text-anchor="end">0.010</text>
<text x="50.8" y="165.95" text-anchor="end">0.015</text>
<text x="50.8" y="108.94" text-anchor="end">0.020</text>
<text x="50.8" y="51.93" text-anchor="end">0.025</text>
</g>
<g>
<text x="220" y="370" text-anchor="middle" font-family="Liberation Serif, serif" font-size="10.8" fill="#000">z</text>
<text transform="translate(20.1,174.4) rotate(-90)" text-anchor="middle" font-family="Liberation Serif, serif" font-size="10.6" fill="#000"><tspan font-style="italic">r</tspan><tspan font-size="7.4" dy="1.8">0</tspan><tspan dy="-1.8">(z)</tspan></text>
</g>
<rect x="396.2" y="103.1" width="84.3" height="148.5" fill="#000"/>
<rect x="386.6" y="93.6" width="84.4" height="148.7" fill="#fff" stroke="#111" stroke-width="0.9"/>
<path d="M391.2,110.60H403.8" stroke="#d0ffd0" stroke-width="1" fill="none"/>
<path d="M391.2,139.35H403.8" stroke="#ffd0d0" stroke-width="1" fill="none"/>
<path d="M391.2,168.10H403.8" stroke="#d0d0ff" stroke-width="1" fill="none"/>
<path d="M391.2,196.85H403.8" stroke="#ffffd0" stroke-width="1" fill="none"/>
<path d="M391.2,225.60H403.8" stroke="#ffd0ff" stroke-width="1" fill="none"/>
<g font-family="Liberation Serif, serif" font-size="6.4" fill="#111"><text x="419.6" y="113.05">R+2Λ(λ=1)</text><text x="419.6" y="141.80">λ=2</text><text x="419.6" y="170.55">λ=3</text><text x="419.6" y="199.30">λ=4</text><text x="419.6" y="228.05">λ=5</text></g>
</svg>
</body></html>
